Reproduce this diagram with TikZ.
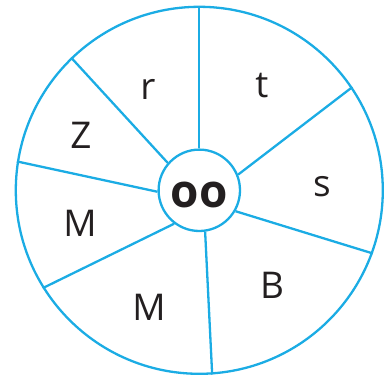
\documentclass[tikz,border=0pt]{standalone}
\usepackage{fontspec}
\setmainfont{Open Sans}
\definecolor{wheel}{RGB}{27,172,228}
\definecolor{ink}{RGB}{35,31,32}
\begin{document}
\begin{tikzpicture}[x=1bp,y=-1bp,
  ring/.style={circle, draw=wheel, line width=2.3bp, inner sep=0pt},
  spoke/.style={draw=wheel, line width=2.3bp},
  letter/.style={text=ink, font=\fontsize{37}{37}\selectfont, inner sep=0pt}]
\useasboundingbox (0,0) rectangle (384,377);
\node[ring, minimum size=367bp] (rim) at (199.3,190.3) {};
\node[ring, minimum size=81.4bp, fill=white] (hub) at (199.3,190.3) {};
\node[text=ink, font=\fontsize{46}{46}\selectfont\bfseries, inner sep=0pt] (oo) at (199.3,195) {o\kern1bp o};
\draw[spoke] (hub.90) -- (rim.90);
\draw[spoke] (hub.22.2) -- (rim.34.7);
\draw[spoke] (hub.330.9) -- (rim.340.5);
\draw[spoke] (hub.278.4) -- (rim.274.1);
\draw[spoke] (hub.233.7) -- (rim.212.3);
\draw[spoke] (hub.182) -- (rim.171.4);
\draw[spoke] (hub.139.8) -- (rim.134.2);
\node[letter] (r) at (148,89.5) {r};
\node[letter] (t) at (262,86) {t};
\node[letter] (Z) at (81,135.5) {Z};
\node[letter] (s) at (322,187) {s};
\node[letter] (M1) at (80,223) {M};
\node[letter] (B) at (272,285) {B};
\node[letter] (M2) at (149,307) {M};
\end{tikzpicture}
\end{document}
